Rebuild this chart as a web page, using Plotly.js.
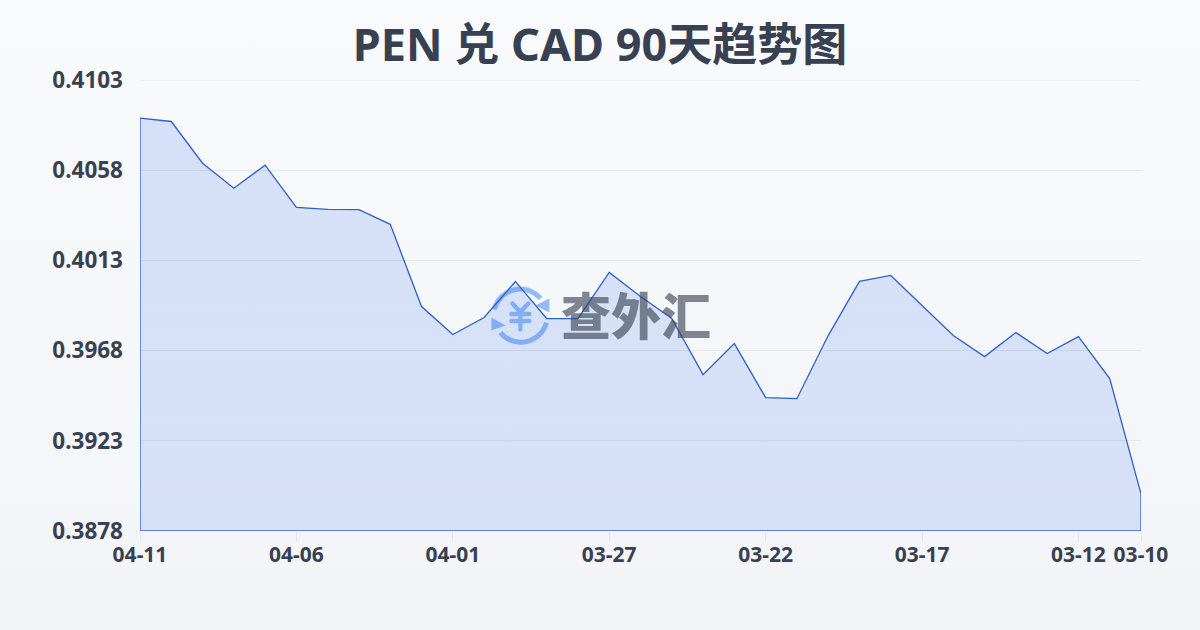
<!DOCTYPE html>
<html>
<head>
<meta charset="utf-8">
<script src="https://cdn.plot.ly/plotly-3.0.1.min.js"></script>
<style>
html,body{margin:0;padding:0;width:1200px;height:630px;overflow:hidden;background:linear-gradient(180deg,#f9fafc 0%,#f3f4f7 100%);}
#chart{width:1200px;height:630px;}
</style>
</head>
<body>
<div id="chart"></div>
<script>
const dates = ["04-11","04-10","04-09","04-08","04-07","04-06","04-05","04-04","04-03","04-02","04-01","03-31","03-30","03-29","03-28","03-27","03-26","03-25","03-24","03-23","03-22","03-21","03-20","03-19","03-18","03-17","03-16","03-15","03-14","03-13","03-12","03-11","03-10"];
const rates = [0.40840,0.40823,0.40615,0.40490,0.40605,0.40395,0.40385,0.40383,0.40310,0.39900,0.39760,0.39845,0.40025,0.39840,0.39840,0.40070,0.39950,0.39840,0.39560,0.39715,0.39445,0.39440,0.39755,0.40025,0.40055,0.39905,0.39755,0.39650,0.39770,0.39665,0.39750,0.39540,0.38965];
const tickDates = ["04-11","04-06","04-01","03-27","03-22","03-17","03-12","03-10"];
const rateTicks = [0.4103,0.4058,0.4013,0.3968,0.3923,0.3878];
const baseRate = 0.3878;
const topRate = 0.4103;
const font = '"Noto Sans","Noto Sans CJK SC",sans-serif';
const dark = '#374151';

const logo = `<svg xmlns="http://www.w3.org/2000/svg" viewBox="0 0 60 60" width="240" height="240"><g fill="none" stroke="#93bbf8" stroke-width="5"><path d="M4 24A26.5 26.5 0 0 1 50 13"/><path d="M56 37A26.5 26.5 0 0 1 10 47"/></g><g fill="#93bbf8"><path d="M59 13V27L45 20Z"/><path d="M1 32V45L15 40Z"/></g><g fill="none" stroke="#93bbf8" stroke-width="4.4" stroke-linecap="round" stroke-linejoin="round"><path d="M22 18L30 26.5L38 18"/><path d="M21 28.5H39M21 35.5H39M30 27V44"/></g></svg>`;

const trace = {
  type: 'scatter',
  mode: 'lines',
  x: dates.concat([dates[dates.length - 1], dates[0], dates[0]]),
  y: rates.concat([baseRate, baseRate, rates[0]]),
  fill: 'toself',
  fillgradient: {
    type: 'vertical',
    colorscale: [[0, 'rgba(37,99,235,0.14)'], [1, 'rgba(37,99,235,0.16)']]
  },
  line: {color: '#2b62c9', width: 1.3, shape: 'linear'},
  hoverinfo: 'skip',
  cliponaxis: false
};

const layout = {
  width: 1200,
  height: 630,
  paper_bgcolor: 'rgba(0,0,0,0)',
  plot_bgcolor: 'rgba(0,0,0,0)',
  margin: {l: 140, r: 59, t: 80, b: 99},
  showlegend: false,
  font: {family: font, color: dark},
  title: {
    text: '<b>PEN 兑 CAD 90天趋势图</b>',
    font: {family: font, size: 45, color: dark},
    x: 0.5, xanchor: 'center', xref: 'container',
    y: 0.928, yanchor: 'middle'
  },
  xaxis: {
    type: 'category',
    categoryorder: 'array',
    categoryarray: dates,
    range: [0, dates.length - 1],
    tickmode: 'array',
    tickvals: tickDates,
    ticktext: tickDates.map(d => '<b>' + d + '</b>'),
    ticks: 'outside',
    ticklen: 10,
    tickwidth: 1,
    tickcolor: '#e5e7eb',
    tickangle: 0,
    ticklabelstandoff: -5,
    tickfont: {family: font, size: 21, color: dark},
    showgrid: false,
    showline: false,
    zeroline: false
  },
  yaxis: {
    range: [baseRate, topRate],
    tickmode: 'array',
    tickvals: rateTicks,
    ticktext: rateTicks.map(v => '<b>' + v.toFixed(4) + '</b>'),
    ticks: '',
    ticklabelstandoff: 16,
    tickfont: {family: font, size: 22.5, color: dark},
    showgrid: true,
    gridcolor: '#e5e7eb',
    gridwidth: 1,
    showline: false,
    zeroline: false
  },
  shapes: [{
    type: 'line', layer: 'below',
    xref: 'paper', x0: 0, x1: 1,
    yref: 'y', y0: rateTicks[0], y1: rateTicks[0],
    line: {color: '#e5e7eb', width: 1}
  }],
  images: [{
    source: 'data:image/svg+xml;charset=utf-8,' + encodeURIComponent(logo),
    xref: 'paper', yref: 'paper',
    x: 350 / 1000, y: (530 - 285) / 450,
    sizex: 60 / 1000, sizey: 60 / 450,
    xanchor: 'left', yanchor: 'top',
    sizing: 'stretch',
    layer: 'below'
  }],
  annotations: [{
    text: '查外汇',
    xref: 'paper', yref: 'paper',
    x: 496 / 1000, y: (530 - 312) / 450,
    xanchor: 'center', yanchor: 'middle',
    showarrow: false,
    font: {family: '"Noto Sans CJK SC",sans-serif', size: 50, weight: 900, color: 'rgba(55,65,81,0.62)'}
  }]
};

Plotly.newPlot('chart', [trace], layout, {displayModeBar: false, staticPlot: true});
</script>
</body>
</html>
